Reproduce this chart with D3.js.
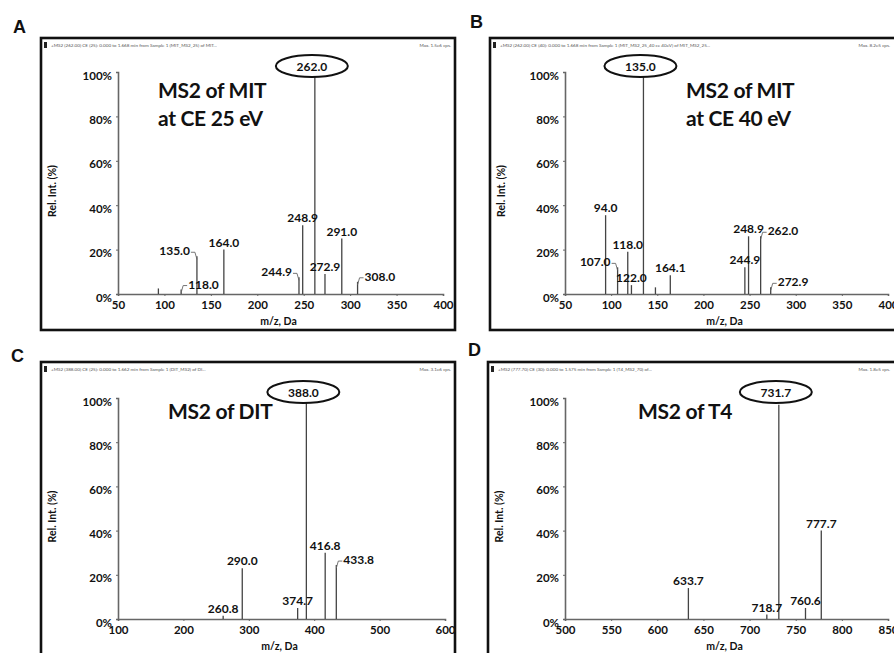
<!DOCTYPE html>
<html><head><meta charset="utf-8">
<script src="https://cdn.jsdelivr.net/npm/d3@7"></script>
<style>
body{margin:0;background:#fff}
svg{display:block}
text{font-family:Lato,"Open Sans",sans-serif;font-weight:700;fill:#111}
</style>
</head><body>
<svg id="chart" width="894" height="653"></svg>
<script>
// ---------- data ----------
const mzA   = [93.5, 118.0, 135.0, 164.0, 244.9, 248.9, 262.0, 272.9, 291.0, 308.0];
const intA  = [2.5, 2, 17, 20, 7.5, 31, 100, 9, 25, 5.5];
const lblA  = ["", "118.0", "135.0", "164.0", "244.9", "248.9", "262.0", "272.9", "291.0", "308.0"];

const mzB   = [94.0, 107.0, 118.0, 122.0, 135.0, 148.0, 164.1, 244.9, 248.9, 262.0, 272.9];
const intB  = [35.5, 12, 19, 4, 100, 3, 8.5, 12, 26, 26, 3];
const lblB  = ["94.0", "107.0", "118.0", "122.0", "135.0", "", "164.1", "244.9", "248.9", "262.0", "272.9"];

const mzC   = [260.8, 290.0, 374.7, 388.0, 416.8, 433.8];
const intC  = [1.5, 23, 5, 100, 30, 24.4];
const lblC  = ["260.8", "290.0", "374.7", "388.0", "416.8", "433.8"];

const mzD   = [633.7, 718.7, 731.7, 760.6, 777.7];
const intD  = [14, 2, 97, 5, 40];
const lblD  = ["633.7", "718.7", "731.7", "760.6", "777.7"];

const xTicksA = [50, 100, 150, 200, 250, 300, 350, 400];
const xTicksB = [50, 100, 150, 200, 250, 300, 350, 400];
const xTicksC = [100, 200, 300, 400, 500, 600];
const xTicksD = [500, 550, 600, 650, 700, 750, 800, 850];
const yTicks  = [0, 20, 40, 60, 80, 100];

const titlesA = ["MS2 of MIT", "at CE 25 eV"];
const titlesB = ["MS2 of MIT", "at CE 40 eV"];
const titlesC = ["MS2 of DIT"];
const titlesD = ["MS2 of T4"];

const headerA = ["+MS2 (262.00) CE (25): 0.000 to 1.668 min from Sample 1 (MIT_MS2_25) of MIT...", "Max. 1.5e6 cps."];
const headerB = ["+MS2 (262.00) CE (40): 0.000 to 1.668 min from Sample 1 (MIT_MS2_25_40 ce 40eV) of MIT_MS2_25...", "Max. 8.2e5 cps."];
const headerC = ["+MS2 (388.00) CE (25): 0.000 to 1.662 min from Sample 1 (DIT_MS2) of DI...", "Max. 3.1e6 cps."];
const headerD = ["+MS2 (777.70) CE (30): 0.000 to 1.575 min from Sample 1 (T4_MS2_70) of...", "Max. 1.8e5 cps."];

// ---------- layout (positions & label placement) ----------
// placement: c = centred above, l = left with leader, r = right with leader, o = circled base peak
const placeA = ["", "r", "l", "c", "l", "c", "o", "c", "c", "r"];
const placeB = ["c", "l", "c", "c", "o", "", "c", "c", "c", "r", "r"];
const placeC = ["c", "c", "c", "o", "c", "r"];
const placeD = ["c", "c", "o", "c", "c"];

const panels = [
  {letter:"A", L:[13,33], box:[41,38,455,330], px:[118,443], py:[294,72], dom:[50,400],
   mz:mzA, it:intA, lb:lblA, pl:placeA, xt:xTicksA, title:titlesA, tpos:[158,98], hdr:headerA},
  {letter:"B", L:[470,28], box:[490,38,906,330], px:[565,888], py:[294,72], dom:[50,400],
   mz:mzB, it:intB, lb:lblB, pl:placeB, xt:xTicksB, title:titlesB, tpos:[686,98], hdr:headerB},
  {letter:"C", L:[11,362], box:[41,362,455,664], px:[118,445], py:[619,398], dom:[100,600],
   mz:mzC, it:intC, lb:lblC, pl:placeC, xt:xTicksC, title:titlesC, tpos:[168,419], hdr:headerC},
  {letter:"D", L:[468,356], box:[488,362,906,664], px:[565,888], py:[619,398], dom:[500,850],
   mz:mzD, it:intD, lb:lblD, pl:placeD, xt:xTicksD, title:titlesD, tpos:[638,419], hdr:headerD}
];

const svg = d3.select("#chart");

panels.forEach(p => {
  const g = svg.append("g");
  const [bx0, by0, bx1, by1] = p.box;

  // panel letter
  g.append("text").attr("x", p.L[0]).attr("y", p.L[1])
    .style("font-family", "'Liberation Sans',Arial,sans-serif").style("font-size", "18px").text(p.letter);

  // outer box
  g.append("rect").attr("x", bx0).attr("y", by0).attr("width", bx1 - bx0).attr("height", by1 - by0)
    .attr("fill", "#fff").attr("stroke", "#111").attr("stroke-width", 2.6);

  // header line
  g.append("rect").attr("x", bx0 + 3).attr("y", by0 + 4).attr("width", 3).attr("height", 6).attr("fill", "#222");
  g.append("text").attr("x", bx0 + 10).attr("y", by0 + 9).style("font-size", "4.6px").style("fill", "#555")
    .style("font-weight", 400).text(p.hdr[0]);
  const rightEdge = Math.min(bx1, 894) - 4;
  g.append("text").attr("x", rightEdge).attr("y", by0 + 9).attr("text-anchor", "end")
    .style("font-size", "4.6px").style("fill", "#555").style("font-weight", 400).text(p.hdr[1]);

  const x = d3.scaleLinear().domain(p.dom).range(p.px);
  const y = d3.scaleLinear().domain([0, 100]).range(p.py);

  // axes
  const xa = g.append("g").attr("transform", `translate(0,${p.py[0]})`)
    .call(d3.axisBottom(x).tickValues(p.xt).tickSize(2).tickPadding(4).tickFormat(d3.format("d")));
  const ya = g.append("g").attr("transform", `translate(${p.px[0]},0)`)
    .call(d3.axisLeft(y).tickValues(yTicks).tickSize(2).tickPadding(4).tickFormat(d => d + "%"));
  [xa, ya].forEach(a => {
    a.select(".domain").attr("stroke", "#666").attr("stroke-width", 1.6);
    a.selectAll(".tick line").attr("stroke", "#666");
    a.selectAll("text").style("font-size", "11.5px").style("font-family", "Lato,sans-serif").attr("fill", "#111");
  });
  ya.selectAll("text").attr("dy", "0.62em");
  xa.selectAll("text").attr("dy", "0.75em");

  // axis titles
  g.append("text").attr("x", (p.px[0] + p.px[1]) / 2 - 2).attr("y", p.py[0] + 31)
    .attr("text-anchor", "middle").style("font-size", "10.5px").text("m/z, Da");
  g.append("text").attr("transform", `translate(${bx0 + 15},${(p.py[0] + p.py[1]) / 2 + 8}) rotate(-90)`)
    .attr("text-anchor", "middle").style("font-size", "10.5px").text("Rel. Int. (%)");

  // big annotation
  p.title.forEach((t, i) => {
    g.append("text").attr("x", p.tpos[0]).attr("y", p.tpos[1] + i * 28)
      .style("font-size", "21px").style("letter-spacing", "-0.3px").text(t);
  });

  // peaks
  const idx = d3.range(p.mz.length);
  g.selectAll("line.peak").data(idx).join("line").attr("class", "peak")
    .attr("x1", i => x(p.mz[i])).attr("x2", i => x(p.mz[i]))
    .attr("y1", y(0)).attr("y2", i => y(p.it[i]))
    .attr("stroke", "#444").attr("stroke-width", 1.3);

  idx.forEach(i => {
    const px = x(p.mz[i]), top = y(p.it[i]), pl = p.pl[i], lab = p.lb[i];
    if (!pl || !lab) return;
    const fs = "12px";
    if (pl === "c") {
      g.append("text").attr("x", px).attr("y", top - 3).attr("text-anchor", "middle").style("font-size", fs).text(lab);
    } else if (pl === "o") {
      const cx = px - 3, cy = y(100) - 6;
      g.append("ellipse").attr("cx", cx).attr("cy", cy).attr("rx", 36).attr("ry", 11)
        .attr("fill", "#fff").attr("stroke", "#111").attr("stroke-width", 2);
      g.append("text").attr("x", cx).attr("y", cy + 4.5).attr("text-anchor", "middle").style("font-size", fs).text(lab);
    } else if (pl === "l") {
      const tx = px - 7, ty = top - 1;
      g.append("text").attr("x", tx).attr("y", ty).attr("text-anchor", "end").style("font-size", fs).text(lab);
      g.append("path").attr("d", `M${tx + 1},${ty - 3}L${px - 2},${ty - 3}L${px},${top + 3}`)
        .attr("fill", "none").attr("stroke", "#666").attr("stroke-width", 0.9);
    } else if (pl === "r") {
      const tx = px + 7, ty = top - 1;
      g.append("text").attr("x", tx).attr("y", ty).attr("text-anchor", "start").style("font-size", fs).text(lab);
      g.append("path").attr("d", `M${tx - 1},${ty - 3}L${px + 2},${ty - 3}L${px},${top + 3}`)
        .attr("fill", "none").attr("stroke", "#666").attr("stroke-width", 0.9);
    }
  });
});
</script>
</body></html>
